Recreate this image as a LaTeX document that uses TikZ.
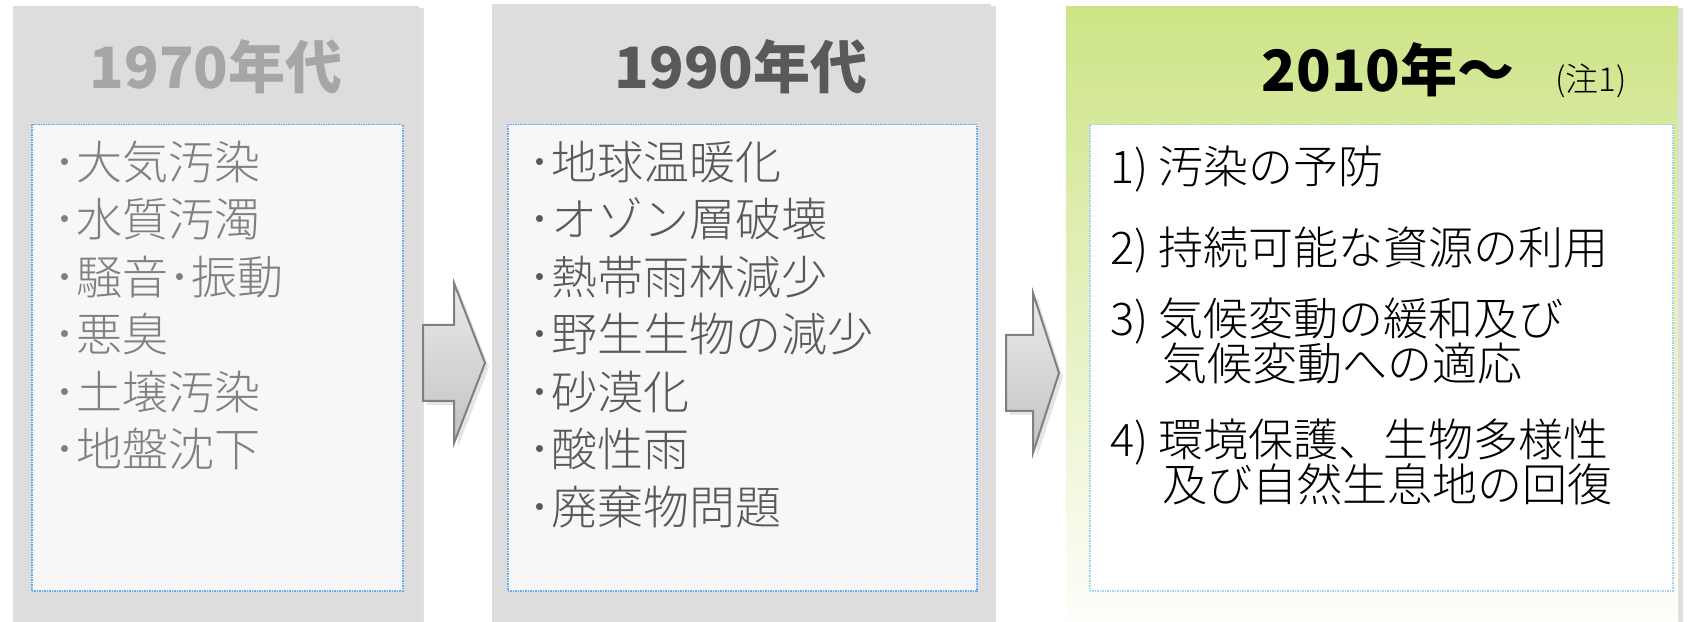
\documentclass[tikz,border=0pt]{standalone}
\usepackage{fontspec}
\setmainfont{Noto Sans CJK JP}
\newfontfamily\jplight{Noto Sans CJK JP Light}
\usetikzlibrary{positioning,shadows}

\definecolor{panelgray}{HTML}{DDDDDD}
\definecolor{boxgray}{HTML}{F7F7F7}
\definecolor{dotblue}{HTML}{66AAEE}
\definecolor{dotlight}{HTML}{A0D2F2}
\definecolor{greentop}{HTML}{CDE486}
\definecolor{txtseventy}{HTML}{808080}
\definecolor{ttlseventy}{HTML}{A6A6A6}
\definecolor{txtninety}{HTML}{595959}

\begin{document}
\begin{tikzpicture}[
        x=1pt, y=1pt,
        era/.style={
                rectangle,
                fill=panelgray,
                anchor=north west,
                minimum height=640pt,
                inner sep=0pt,
                drop shadow={shadow xshift=5pt, shadow yshift=-2pt, opacity=0.25}
            },
        listbox/.style={
                rectangle,
                draw=dotblue,
                densely dotted,
                line width=1.5pt,
                fill=boxgray,
                anchor=north west,
                minimum height=466pt,
                inner sep=0pt
            },
        title/.style={
                anchor=base,
                inner sep=0pt,
                font=\fontsize{57pt}{60pt}\selectfont\bfseries
            },
        item/.style={
                anchor=base west,
                inner sep=0pt,
                font=\jplight\fontsize{46pt}{50pt}\selectfont
            },
        shiftarrow/.style={
                draw=black!50,
                line width=2pt,
                top color=black!8,
                bottom color=black!24,
                drop shadow={shadow xshift=4pt, shadow yshift=-4pt, opacity=0.2}
            }
    ]
    \path[use as bounding box, fill=white] (0,0) rectangle (1688,621);

    % the three eras
    \node[era, minimum width=406pt] (p70) at (13,615) {};
    \node[era, minimum width=499pt] (p90) at (492,617) {};
    \node[era, minimum width=612pt, top color=greentop, bottom color=white] (p10) at (1066,615) {};

    \node[listbox, minimum width=371pt] (l70) at (31,497) {};
    \node[listbox, minimum width=469pt] (l90) at (507,497) {};
    \node[listbox, minimum width=583pt, draw=dotlight, fill=white] (l10) at (1089,497) {};

    \node[title, text=ttlseventy] (t70) at (216,532) {1970年代};
    \node[title, text=txtninety] (t90) at (741,532) {1990年代};
    \node[title] (t10) at (1388,529) {2010年〜};
    \node[anchor=base west, inner sep=0pt, font=\jplight\fontsize{33pt}{35pt}\selectfont] (note) at (1555,529) {(注1)};

    % arrows between the eras
    \foreach \xa/\xb/\xc/\ym in {423/454/485/258, 1006/1033/1059/248}
        \draw[shiftarrow] (\xa,\ym+38) -- (\xb,\ym+38) -- (\xb,\ym+80) -- (\xc,\ym)
            -- (\xb,\ym-80) -- (\xb,\ym-38) -- (\xa,\ym-38) -- cycle;

    % problems
    \foreach \txt [count=\i from 0] in {大気汚染, 水質汚濁, 騒音･振動, 悪臭, 土壌汚染, 地盤沈下}
        \node[item, text=txtseventy] (a\i) at (53,441.5-57.5*\i) {･\txt};
    \foreach \txt [count=\i from 0] in {地球温暖化, オゾン層破壊, 熱帯雨林減少, 野生生物の減少, 砂漠化, 酸性雨, 廃棄物問題}
        \node[item, text=txtninety] (b\i) at (528,441.5-57.5*\i) {･\txt};

    \node[item, font=\jplight\fontsize{45pt}{50pt}\selectfont] (g1) at (1110,437) {1) 汚染の予防};
    \node[item, font=\jplight\fontsize{45pt}{50pt}\selectfont] (g2) at (1110,356) {2) 持続可能な資源の利用};
    \node[item, font=\jplight\fontsize{45pt}{50pt}\selectfont] (g3) at (1110,285) {3) 気候変動の緩和及び};
    \node[item, font=\jplight\fontsize{45pt}{50pt}\selectfont] (g3b) at ([xshift=52pt, yshift=-45pt]g3.base west) {気候変動への適応};
    \node[item, font=\jplight\fontsize{45pt}{50pt}\selectfont] (g4) at (1110,164) {4) 環境保護、生物多様性};
    \node[item, font=\jplight\fontsize{45pt}{50pt}\selectfont] (g4b) at ([xshift=52pt, yshift=-45pt]g4.base west) {及び自然生息地の回復};
\end{tikzpicture}
\end{document}
